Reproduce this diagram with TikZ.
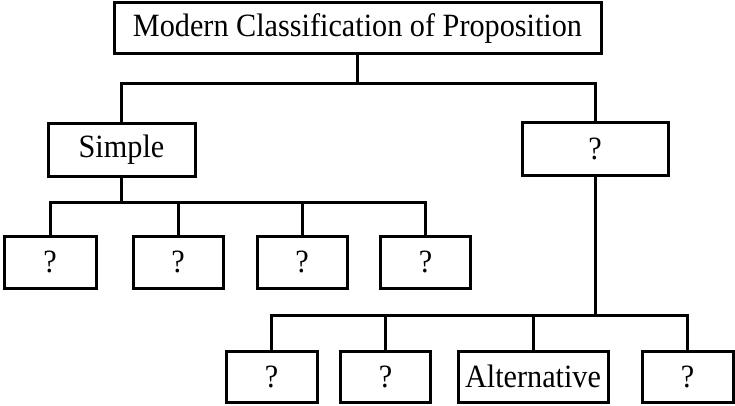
\documentclass[tikz,border=0pt]{standalone}
\usepackage{fontspec}
\setmainfont{Liberation Serif}[FakeStretch=0.93]
\begin{document}
\begin{tikzpicture}[x=1pt,y=-1pt,
  box/.style={draw=black,line width=3pt,fill=white,inner sep=0pt,anchor=center,
    minimum height=51pt,font=\fontsize{32.5}{38}\selectfont},
  link/.style={draw=black,line width=3pt,line join=miter}]
\useasboundingbox (0,0) rectangle (735,406);
% nodes
\node[box,minimum width=487pt] (top) at (357.5,28.5) {Modern Classification of Proposition};
\node[box,minimum width=147pt,minimum height=52pt] (simple) at (121.5,150) {Simple};
\node[box,minimum width=146pt,minimum height=52pt] (qR) at (595,149) {?};
\node[box,minimum width=92pt,minimum height=52pt] (b1) at (50,262) {?};
\node[box,minimum width=90pt,minimum height=52pt] (b2) at (178,262) {?};
\node[box,minimum width=90pt,minimum height=52pt] (b3) at (302,262) {?};
\node[box,minimum width=90pt,minimum height=52pt] (b4) at (425.5,262) {?};
\node[box,minimum width=91pt] (c1) at (271.5,376.5) {?};
\node[box,minimum width=90pt] (c2) at (385.5,376.5) {?};
\node[box,minimum width=150pt] (c3) at (533,376.5) {Alternative};
\node[box,minimum width=91pt] (c4) at (687.5,376.5) {?};
% junctions
\coordinate (lvl1) at (357.5,84);
\coordinate (lvl2) at (121.5,202);
\coordinate (lvl3) at (595,315);
% connectors
\draw[link] (top.south) -- (lvl1);
\draw[link] (simple.north) |- (lvl1) -| (qR.north);
\draw[link] (simple.south) -- (lvl2);
\draw[link] (b1.north) |- (lvl2) -| (b4.north);
\draw[link] (b2.north) -- (b2.north |- lvl2);
\draw[link] (b3.north) -- (b3.north |- lvl2);
\draw[link] (qR.south) -- (lvl3);
\draw[link] (c1.north) |- (lvl3) -| (c4.north);
\draw[link] (c2.north) -- (c2.north |- lvl3);
\draw[link] (c3.north) -- (c3.north |- lvl3);
\end{tikzpicture}
\end{document}
